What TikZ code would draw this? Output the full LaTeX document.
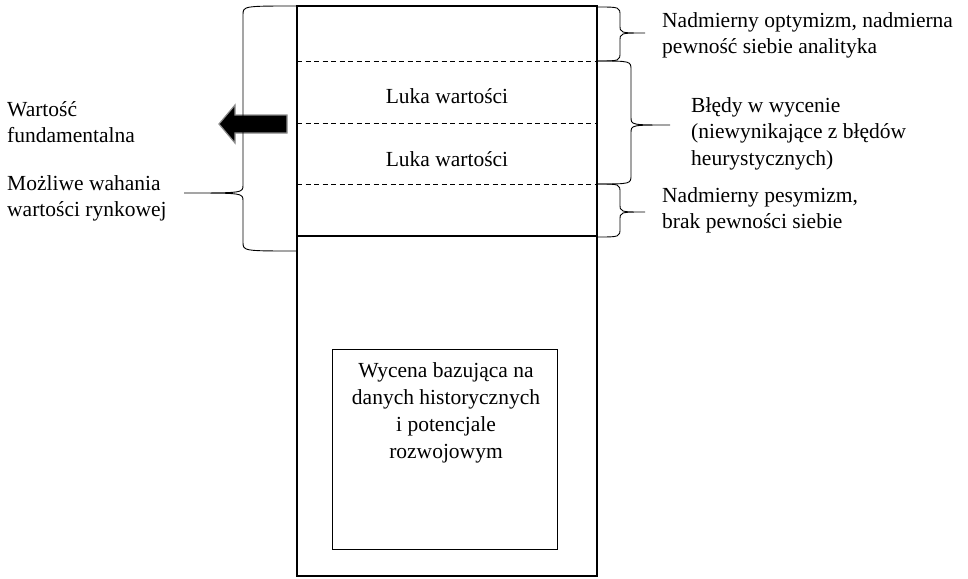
\documentclass[tikz,border=0pt]{standalone}
\usepackage{fontspec}
\setmainfont{Liberation Serif}
\tikzset{
  bracestyle/.style={line width=0.9pt, black},
  label/.style={inner sep=0pt, font=\fontsize{21.5}{26.5}\selectfont, align=left},
  centerlabel/.style={inner sep=0pt, font=\fontsize{21.5}{26.8}\selectfont, align=center},
  divider/.style={line width=0.9pt, dash pattern=on 5pt off 3.5pt},
}
% curly brace: edge x, spine x, tip x, top y, middle y, bottom y
\newcommand\curlybrace[6]{%
  \draw[bracestyle] (#1,#4) .. controls (#2,#4) .. (#2,#4+9) -- (#2,#5-8)
    .. controls (#2,#5) .. (#3,#5) .. controls (#2,#5) .. (#2,#5+8)
    -- (#2,#6-9) .. controls (#2,#6) .. (#1,#6);}
\begin{document}
\begin{tikzpicture}[x=1pt, y=-1pt]
\useasboundingbox (0,0) rectangle (968,578);

% main column
\draw[line width=1.6pt] (297,6) rectangle (597,576);
\draw[divider] (297,61) -- (597,61);
\draw[divider] (297,123) -- (597,123);
\draw[divider] (297,184) -- (597,184);
\draw[line width=1.2pt] (297,236) -- (597,236);

\node[centerlabel, anchor=base] (gap1) at (447,103) {Luka wartości};
\node[centerlabel, anchor=base] (gap2) at (447,166) {Luka wartości};

% historical valuation box
\draw[line width=0.9pt] (332,349) rectangle (557,549);
\node[centerlabel, anchor=north] (hist) at (446,362.5)
  {Wycena bazująca na\\danych historycznych\\i potencjale\\rozwojowym};

% arrow towards the fundamental value
\draw[fill=black, draw=black!45, line width=1.2pt]
  (287,115) -- (235,115) -- (235,105) -- (219,124) -- (235,143)
  -- (235,133) -- (287,133) -- cycle;

% braces
\curlybrace{297}{243}{184}{6}{193}{251}
\curlybrace{597}{620}{645}{7}{33}{61}
\curlybrace{597}{631}{670}{61}{125}{184}
\curlybrace{597}{620}{645}{184}{212}{237}

% left labels
\node[label, anchor=north west] (fund) at (7,101) {Wartość\\fundamentalna};
\node[label, anchor=north west] (fluct) at (7,175) {Możliwe wahania\\wartości rynkowej};

% right labels
\node[label, anchor=north west] (opt) at (662,12) {Nadmierny optymizm, nadmierna\\pewność siebie analityka};
\node[label, anchor=north west] (err) at (691,97) {Błędy w wycenie\\(niewynikające z błędów\\heurystycznych)};
\node[label, anchor=north west] (pes) at (662,187) {Nadmierny pesymizm,\\brak pewności siebie};
\end{tikzpicture}
\end{document}
